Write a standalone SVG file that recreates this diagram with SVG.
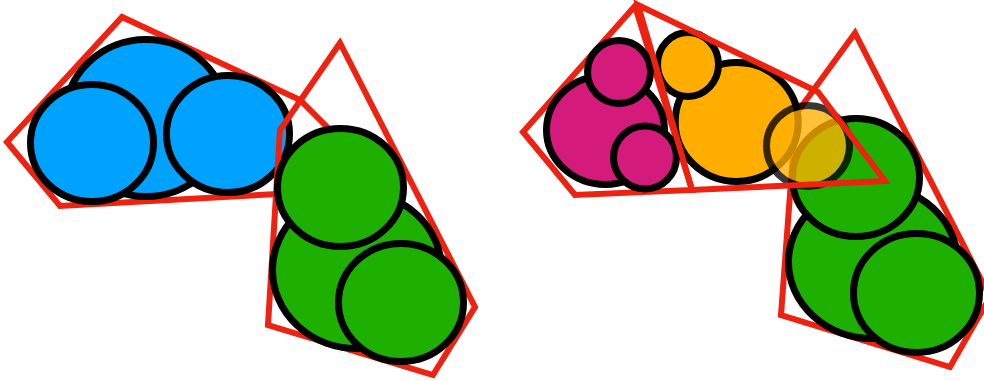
<svg xmlns="http://www.w3.org/2000/svg" width="984" height="381" viewBox="0 0 984 381">
<style>
.hull{fill:none;stroke:#EE2211;stroke-width:6;stroke-linejoin:miter;stroke-miterlimit:10}
.c{stroke:#000;stroke-width:7}
.blue{fill:#00A2FF}
.green{fill:#1EB000}
.pink{fill:#D41A7A}
.yellow{fill:#FFAE00}
</style>
<rect width="984" height="381" fill="#fff"/>
<g id="left-figure">
  <g id="blue-cluster">
    <polygon class="hull" points="122,17 7,142 60,206 295,193 340,140 300,100"/>
    <ellipse class="c blue" cx="146" cy="118" rx="81.5" ry="78.5"/>
    <ellipse class="c blue" cx="92" cy="143" rx="61.5" ry="58.5"/>
    <ellipse class="c blue" cx="228" cy="134" rx="61.5" ry="58.5"/>
  </g>
  <g id="green-cluster-left">
    <polygon class="hull" points="340,43 280,130 268,325 433,375 475,307"/>
    <ellipse class="c green" cx="357" cy="270" rx="84.5" ry="78.5"/>
    <ellipse class="c green" cx="340.5" cy="187.5" rx="63" ry="59"/>
    <ellipse class="c green" cx="401" cy="302.5" rx="62.5" ry="59"/>
  </g>
</g>
<g id="right-figure">
  <g id="pink-cluster">
    <polygon class="hull" points="635,6 523,132 575,195 692,190"/>
    <ellipse class="c pink" cx="605.5" cy="130" rx="59" ry="54.5"/>
    <ellipse class="c pink" cx="619" cy="72" rx="31.5" ry="31.5"/>
    <ellipse class="c pink" cx="645" cy="157.5" rx="31.5" ry="31.5"/>
  </g>
  <g id="green-cluster-right">
    <polygon class="hull" points="855,33 796,114 781,315 950,367 990,297"/>
    <ellipse class="c green" cx="873" cy="262" rx="84.5" ry="76.5"/>
    <ellipse class="c green" cx="856" cy="177.5" rx="63.5" ry="59"/>
    <ellipse class="c green" cx="916.5" cy="293" rx="63" ry="59.5"/>
  </g>
  <g id="yellow-cluster">
    <ellipse class="c yellow" cx="736.7" cy="122" rx="61.5" ry="59.5"/>
    <ellipse class="c yellow" cx="688" cy="64.5" rx="30.5" ry="32"/>
  </g>
  <g id="translucent-node" opacity="0.78">
    <ellipse class="c" fill="#FFB000" cx="808" cy="146" rx="41.5" ry="40.5"/>
  </g>
  <g id="yellow-hull">
    <polygon class="hull" points="638,5 818,92 885,181 692,190"/>
  </g>
</g>
</svg>
